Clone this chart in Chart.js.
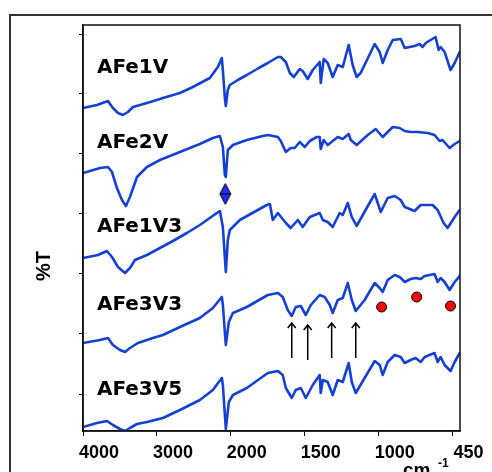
<!DOCTYPE html>
<html>
<head>
<meta charset="utf-8">
<script src="https://cdn.jsdelivr.net/npm/chart.js@4.4.1/dist/chart.umd.min.js"></script>
<style>
  html, body { margin: 0; padding: 0; background: #fff; }
  canvas { display: block; }
</style>
</head>
<body>
<canvas id="irChart" width="492" height="472"></canvas>
<script>
// sample names, top to bottom
const sampleNames = ["AFe1V", "AFe2V", "AFe1V3", "AFe3V3", "AFe3V5"];

// spectra: wavenumber (cm-1) and %T (arbitrary offset units)
const afe1vWn = [4000, 3811, 3662, 3595, 3527, 3459, 3392, 3324, 3135, 2959, 2919, 2689, 2514, 2284, 2176, 2122, 2108, 2081, 2068, 2041, 2014, 1953, 1892, 1811, 1750, 1682, 1662, 1628, 1601, 1574, 1534, 1514, 1480, 1446, 1399, 1392, 1372, 1345, 1311, 1277, 1243, 1203, 1176, 1149, 1122, 1027, 993, 973, 939, 905, 851, 824, 791, 757, 723, 703, 682, 615, 595, 581, 554, 514, 486, 452];
const afe1vT  = [323, 326, 330, 323, 318, 316, 319, 324, 328, 332, 333, 338, 344, 353, 364, 373, 361, 333, 325, 341, 346, 351, 356, 363, 368, 374, 374, 369, 358, 354, 362, 360, 352, 361, 369, 348, 372, 368, 354, 366, 364, 386, 366, 354, 358, 387, 379, 368, 381, 391, 392, 383, 384, 385, 387, 384, 388, 394, 381, 384, 379, 361, 368, 379];

const afe2vWn = [4000, 3770, 3662, 3608, 3541, 3473, 3419, 3365, 3270, 3135, 2959, 2689, 2419, 2243, 2149, 2108, 2081, 2068, 2041, 1986, 1892, 1784, 1750, 1682, 1662, 1628, 1595, 1568, 1534, 1500, 1466, 1419, 1399, 1392, 1372, 1345, 1311, 1277, 1243, 1203, 1189, 1149, 1074, 1020, 973, 905, 858, 824, 784, 736, 669, 622, 588, 568, 520, 486, 452];
const afe2vT  = [258, 263, 264, 259, 243, 231, 225, 234, 254, 264, 271, 279, 287, 293, 295, 284, 256, 254, 281, 286, 291, 295, 296, 294, 290, 279, 283, 283, 289, 284, 290, 294, 294, 282, 291, 286, 290, 294, 292, 297, 291, 286, 296, 302, 294, 304, 303, 300, 299, 299, 298, 296, 290, 291, 283, 287, 290];

const afe1v3Wn = [4000, 3797, 3676, 3608, 3527, 3432, 3365, 3297, 3135, 2959, 2784, 2595, 2419, 2189, 2149, 2108, 2068, 2041, 2014, 1939, 1757, 1736, 1716, 1682, 1628, 1595, 1547, 1514, 1466, 1399, 1378, 1345, 1311, 1264, 1243, 1209, 1182, 1149, 1081, 1027, 986, 939, 892, 851, 824, 757, 716, 635, 601, 561, 534, 486, 452];
const afe1v3T  = [173, 176, 180, 174, 164, 158, 163, 171, 176, 183, 190, 198, 206, 218, 220, 204, 159, 191, 201, 211, 226, 227, 211, 218, 208, 203, 211, 204, 214, 218, 211, 209, 204, 218, 216, 228, 214, 205, 223, 237, 219, 233, 235, 231, 224, 220, 226, 226, 221, 208, 203, 214, 221];

const afe3v3Wn = [4000, 3770, 3662, 3595, 3500, 3432, 3365, 3257, 3054, 2919, 2689, 2419, 2243, 2122, 2108, 2068, 2027, 1986, 1892, 1750, 1682, 1649, 1615, 1588, 1561, 1527, 1493, 1459, 1399, 1365, 1331, 1311, 1277, 1243, 1209, 1182, 1155, 1095, 1027, 993, 973, 939, 892, 858, 824, 784, 750, 716, 689, 622, 601, 581, 554, 520, 486, 452];
const afe3v3T  = [88, 91, 93, 86, 81, 79, 83, 88, 93, 96, 104, 113, 123, 134, 126, 86, 109, 118, 124, 136, 138, 134, 121, 115, 124, 125, 116, 126, 136, 134, 126, 118, 131, 133, 148, 131, 120, 131, 148, 143, 139, 151, 156, 154, 149, 152, 153, 152, 155, 157, 149, 153, 149, 141, 149, 155];

const afe3v5Wn = [4000, 3811, 3676, 3595, 3500, 3432, 3365, 3270, 3135, 2919, 2689, 2419, 2243, 2122, 2108, 2068, 2027, 1986, 1892, 1750, 1682, 1649, 1628, 1588, 1561, 1527, 1493, 1446, 1399, 1392, 1378, 1345, 1311, 1277, 1243, 1203, 1182, 1155, 1095, 1027, 993, 973, 939, 892, 851, 824, 784, 750, 716, 689, 622, 601, 581, 554, 514, 486, 452];
const afe3v5T  = [4, 8, 10, 6, 2, 0, 3, 7, 9, 13, 21, 31, 41, 53, 46, 2, 29, 36, 43, 58, 60, 56, 43, 33, 41, 43, 33, 46, 56, 38, 51, 49, 36, 51, 49, 68, 49, 38, 53, 70, 66, 56, 69, 76, 74, 68, 71, 73, 69, 74, 78, 69, 74, 66, 60, 69, 78];

// band markers
const diamondWn = [2075];
const diamondT = [237];
const dotWn = [980, 743, 514];
const dotT = [124, 134, 125];
const arrowWn = [1588, 1480, 1318, 1155];
const arrowFromT = [73, 71, 73, 73];
const arrowToT = [108, 106, 108, 108];

// axis ticks
const xTickWn = [4000, 3000, 2000, 1500, 1000, 500];
const xTickLabels = ["4000", "3000", "2000", "1500", "1000", "450"];
const yTickValues = [37, 98, 158, 218, 278, 338, 396];

// x scale is doubled below 2000 cm-1
const toAxis = wn => wn >= 2000 ? 4000 - wn : 2000 + (2000 - wn) * 2;
const pts = (wn, t) => wn.map((w, i) => ({ x: toAxis(w), y: t[i] }));

const lineBlue = '#1541d2';
const labelT = [358, 283, 199, 121, 36];

// diamond marker image
const diamond = document.createElement('canvas');
diamond.width = 13; diamond.height = 23;
(function () {
  const c = diamond.getContext('2d');
  c.beginPath();
  c.moveTo(6.5, 1); c.lineTo(12, 11.5); c.lineTo(6.5, 22); c.lineTo(1, 11.5); c.closePath();
  c.fillStyle = '#1f2cf0'; c.fill();
  c.lineWidth = 1; c.strokeStyle = '#000'; c.stroke();
  c.beginPath(); c.moveTo(1, 11.5); c.lineTo(12, 11.5); c.stroke();
})();

const decor = {
  id: 'decor',
  beforeDraw(chart) {
    const ctx = chart.ctx;
    ctx.save();
    ctx.fillStyle = '#fff';
    ctx.fillRect(0, 0, chart.width, chart.height);
    ctx.strokeStyle = '#333';
    ctx.lineWidth = 2;
    ctx.strokeRect(10, 15, 700, 700);
    ctx.restore();
  },
  afterDraw(chart) {
    const ctx = chart.ctx, a = chart.chartArea;
    const xs = chart.scales.x, ys = chart.scales.y;
    ctx.save();
    ctx.strokeStyle = '#111';
    ctx.lineWidth = 1.5;
    ctx.strokeRect(a.left, a.top, a.right - a.left, a.bottom - a.top);

    // sample names
    ctx.fillStyle = '#000';
    ctx.font = 'bold 20px "DejaVu Sans"';
    ctx.textBaseline = 'alphabetic';
    sampleNames.forEach((n, i) => {
      ctx.fillText(n, xs.getPixelForValue(toAxis(3811)), ys.getPixelForValue(labelT[i]));
    });

    // arrows
    ctx.strokeStyle = '#000';
    ctx.lineWidth = 1.5;
    arrowWn.forEach((w, i) => {
      const x = xs.getPixelForValue(toAxis(w));
      const y0 = ys.getPixelForValue(arrowFromT[i]);
      const y1 = ys.getPixelForValue(arrowToT[i]);
      ctx.beginPath();
      ctx.moveTo(x, y0); ctx.lineTo(x, y1);
      ctx.moveTo(x - 4, y1 + 5); ctx.lineTo(x, y1); ctx.lineTo(x + 4, y1 + 5);
      ctx.stroke();
    });

    // axis titles
    ctx.font = 'bold 20px "Liberation Sans"';
    ctx.textAlign = 'center';
    ctx.textBaseline = 'middle';
    ctx.translate(44, 266);
    ctx.rotate(-Math.PI / 2);
    ctx.fillText('%T', 0, 0);
    ctx.setTransform(1, 0, 0, 1, 0, 0);
    ctx.textAlign = 'left';
    ctx.textBaseline = 'alphabetic';
    ctx.font = 'bold 19px "Liberation Sans"';
    ctx.fillText('cm', 403, 476);
    ctx.font = 'bold 12px "Liberation Sans"';
    ctx.fillText('-1', 438, 467);
    ctx.restore();
  }
};

const series = [
  [afe1vWn, afe1vT], [afe2vWn, afe2vT], [afe1v3Wn, afe1v3T], [afe3v3Wn, afe3v3T], [afe3v5Wn, afe3v5T]
];

new Chart(document.getElementById('irChart'), {
  type: 'line',
  data: {
    datasets: series.map((s, i) => ({
      label: sampleNames[i],
      data: pts(s[0], s[1]),
      borderColor: lineBlue,
      borderWidth: 2.6,
      borderJoinStyle: 'round',
      borderCapStyle: 'round',
      pointRadius: 0,
      tension: 0,
      fill: false
    })).concat([
      {
        type: 'scatter',
        label: 'diamond',
        data: pts(diamondWn, diamondT),
        pointStyle: diamond,
        pointRadius: 6
      },
      {
        type: 'scatter',
        label: 'dots',
        data: pts(dotWn, dotT),
        pointStyle: 'circle',
        pointRadius: 5,
        backgroundColor: '#ff0000',
        borderColor: '#000',
        borderWidth: 1
      }
    ])
  },
  options: {
    responsive: false,
    animation: false,
    layout: { padding: { top: 25, right: 32, left: 0, bottom: 0 } },
    plugins: { legend: { display: false }, tooltip: { enabled: false } },
    scales: {
      x: {
        type: 'linear',
        min: 0,
        max: 5100,
        afterBuildTicks: s => { s.ticks = xTickWn.map(w => ({ value: toAxis(w) })); },
        afterFit: s => { s.height = 41; },
        ticks: {
          autoSkip: false,
          maxRotation: 0,
          labelOffset: 16,
          padding: 6,
          color: '#000',
          font: { family: 'Liberation Sans', size: 18, weight: 'bold' },
          callback: (v, i) => xTickLabels[i]
        },
        grid: { drawOnChartArea: false, tickLength: 5, tickColor: '#000', tickWidth: 1 },
        border: { display: true, color: '#111', width: 1.5 }
      },
      y: {
        type: 'linear',
        min: 0,
        max: 406,
        afterBuildTicks: s => { s.ticks = yTickValues.map(v => ({ value: v })); },
        afterFit: s => { s.width = 83; },
        ticks: { callback: () => '', padding: 0 },
        grid: { drawOnChartArea: false, tickLength: 4, tickColor: '#000', tickWidth: 1 },
        border: { display: true, color: '#111', width: 1.5 }
      }
    }
  },
  plugins: [decor]
});
</script>
</body>
</html>
